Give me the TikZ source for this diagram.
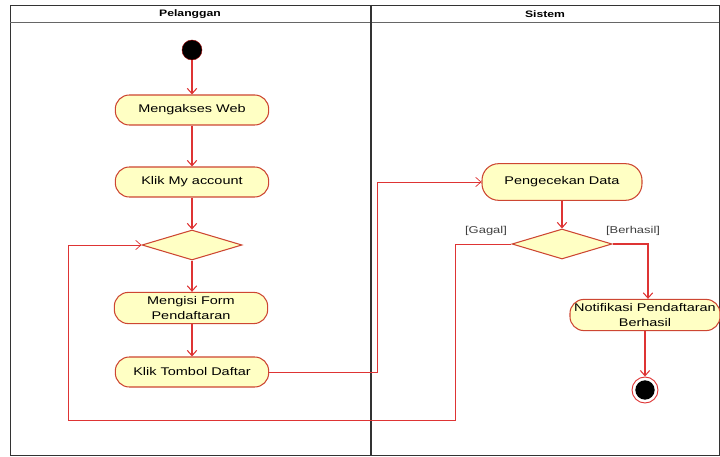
\documentclass[tikz,border=0pt]{standalone}
\usepackage{fontspec}
\setmainfont[FakeStretch=1.3]{Liberation Sans}
\usetikzlibrary{shapes.geometric,arrows.meta}

\definecolor{flowred}{RGB}{222,52,52}
\definecolor{actfill}{RGB}{255,255,196}
\definecolor{actline}{RGB}{205,70,50}

\tikzset{
  lane/.style={draw=black!80, line width=0.7pt},
  activity/.style={rectangle, rounded corners=0.42cm, draw=actline, fill=actfill,
    line width=0.9pt, minimum width=4.6cm, minimum height=0.9cm, inner xsep=1pt,
    align=center, font=\fontsize{9.5}{13}\selectfont},
  decision/.style={diamond, draw=actline, fill=actfill, line width=0.9pt,
    minimum width=3cm, minimum height=0.9cm, inner sep=0pt},
  flow/.style={-{Straight Barb[length=4.5pt,width=8pt]}, draw=flowred, line width=0.9pt},
  longflow/.style={flow, line width=0.6pt},
  guard/.style={font=\fontsize{8.5}{10}\selectfont, text=black!75}
}

\begin{document}
\begin{tikzpicture}[x=0.03cm,y=-0.03cm]
\useasboundingbox (0,0) rectangle (720,457);
% Swimlanes
\draw[lane] (10,5) rectangle (719,455);
\draw[lane, draw=black!60] (10,22) -- (719,22);
\draw[lane, line width=1pt] (371,5) -- (371,455);
\node[font=\fontsize{8}{9}\selectfont\bfseries] (hpel) at (190,14) {Pelanggan};
\node[font=\fontsize{8}{9}\selectfont\bfseries] (hsis) at (545,14) {Sistem};
% Pelanggan
\node[circle, fill=black, draw=red!60!black, minimum size=0.6cm, inner sep=0pt] (mulai) at (192,50) {};
\node[activity] (web) at (192,110) {Mengakses Web};
\node[activity] (akun) at (192,182) {Klik My account};
\node[decision] (pilih) at (192,245) {};
\node[activity] (isi) at (191,308) {Mengisi Form\\Pendaftaran};
\node[activity] (daftar) at (192,372) {Klik Tombol Daftar};
% Sistem
\node[activity, minimum width=4.8cm, minimum height=1.1cm, rounded corners=0.5cm] (cekdata) at (562,182) {Pengecekan Data};
\node[decision] (hasil) at (562,244) {};
\node[activity, minimum width=4.5cm, inner xsep=0pt] (notif) at (645,315) {Notifikasi Pendaftaran\\Berhasil};
\node[circle, draw=flowred, fill=white, line width=0.8pt, minimum size=0.78cm, inner sep=0pt] (selesai) at (645,390) {};
\node[circle, fill=black, minimum size=0.58cm, inner sep=0pt] (selesaiin) at (645,390) {};
% Guards
\node[guard] (ggagal) at (486,231) {[Gagal]};
\node[guard] (gberhasil) at (633,231) {[Berhasil]};
% Bends
\coordinate (b1) at (377,372);
\coordinate (b2) at (455,420);
\coordinate (b3) at (68,420);
\coordinate (b4) at (648,244);
% Connect the activities
\draw[flow] (mulai) -- (web);
\draw[flow] (web) -- (akun);
\draw[flow] (akun) -- (pilih);
\draw[flow] (pilih.south) -- (pilih.south |- isi.north);
\draw[flow] (isi.south -| daftar.north) -- (daftar.north);
\draw[longflow] (daftar.east) -- (b1) |- (cekdata.west);
\draw[flow] (cekdata) -- (hasil);
\draw[longflow] (hasil.west) -| (b2) -- (b3) |- (pilih.west);
\draw[flow] (hasil.east) -- (b4) -- (b4 |- notif.north);
\draw[flow] (notif) -- (selesai);
\end{tikzpicture}
\end{document}
